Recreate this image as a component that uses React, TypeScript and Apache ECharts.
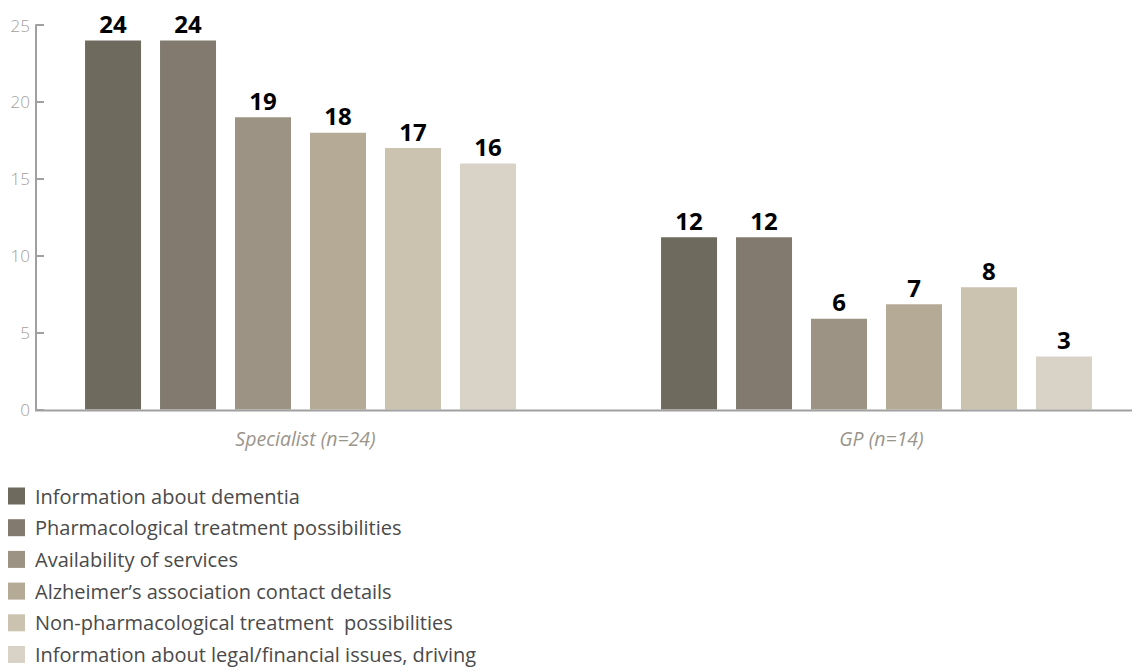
import React, { useEffect, useRef } from "react";
import * as echarts from "echarts";

const categories = ["Specialist (n=24)", "GP (n=14)"];
const items = [
  "Information about dementia",
  "Pharmacological treatment possibilities",
  "Availability of services",
  "Alzheimer\u2019s association contact details",
  "Non-pharmacological treatment  possibilities",
  "Information about legal/financial issues, driving",
];
const colors = ["#6f6a5e", "#827a6e", "#9c9385", "#b5aa96", "#ccc2b0", "#d9d2c7"];
// bar heights as drawn
const specialistHeights = [24, 24, 19, 18, 17, 16];
const gpHeights = [11.2, 11.2, 5.9, 6.85, 7.95, 3.45];
// printed value labels
const specialistLabels = [24, 24, 19, 18, 17, 16];
const gpLabels = [12, 12, 6, 7, 8, 3];
const yTicks = { min: 0, max: 25, interval: 5 };

const FONT = "'Open Sans', 'DejaVu Sans', sans-serif";

export default function App() {
  const ref = useRef<HTMLDivElement>(null);
  useEffect(() => {
    if (!ref.current) return;
    const chart = echarts.init(ref.current, undefined, { renderer: "svg" });
    const labelSets = [specialistLabels, gpLabels];
    const series = items.map((name, i) => ({
      name,
      type: "bar",
      barWidth: 56,
      barGap: "33.9%",
      itemStyle: { color: colors[i] },
      label: {
        show: true,
        position: "top",
        distance: 5,
        color: "#000",
        fontFamily: FONT,
        fontWeight: "bold",
        fontSize: 24,
        formatter: (p: any) => String(labelSets[p.dataIndex][i]),
      },
      data: [specialistHeights[i], gpHeights[i]],
    }));
    chart.setOption({
      animation: false,
      grid: { left: 12.5, top: 25, width: 1152, height: 384.5 },
      legend: {
        orient: "vertical",
        left: 8,
        top: 486,
        bottom: -100,
        padding: 0,
        itemWidth: 17,
        itemHeight: 17,
        itemGap: 11.7,
        icon: "rect",
        textStyle: { fontSize: 20, color: "#4a4a4a", fontFamily: FONT, padding: [0, 0, 0, 5] },
        data: items,
      },
      xAxis: {
        type: "category",
        data: categories,
        axisLine: { show: false },
        axisTick: { show: false },
        axisLabel: {
          color: "#9a958c",
          fontStyle: "italic",
          fontFamily: FONT,
          fontSize: 19.5,
          margin: 19,
          padding: [0, 0, 0, 10],
        },
      },
      yAxis: {
        type: "value",
        min: yTicks.min,
        max: yTicks.max,
        interval: yTicks.interval,
        offset: -23.5,
        axisLine: { show: true, lineStyle: { color: "#a0a0a0", width: 2 } },
        axisTick: { show: true, inside: true, length: 8, lineStyle: { color: "#a0a0a0", width: 2 } },
        axisLabel: { color: "#a4a09a", fontFamily: FONT, fontWeight: 300, fontSize: 17, margin: 6 },
        splitLine: { show: false },
      },
      graphic: [
        {
          type: "line",
          shape: { x1: 35, y1: 410.5, x2: 1132, y2: 410.5 },
          style: { stroke: "#a0a0a0", lineWidth: 2 },
          z: 10,
        },
      ],
      series,
    });
    return () => chart.dispose();
  }, []);
  return (
    <div style={{ position: "absolute", left: 0, top: 0, width: 1132, height: 667, overflow: "hidden" }}>
      <div ref={ref} style={{ width: 1170, height: 667 }} />
    </div>
  );
}
